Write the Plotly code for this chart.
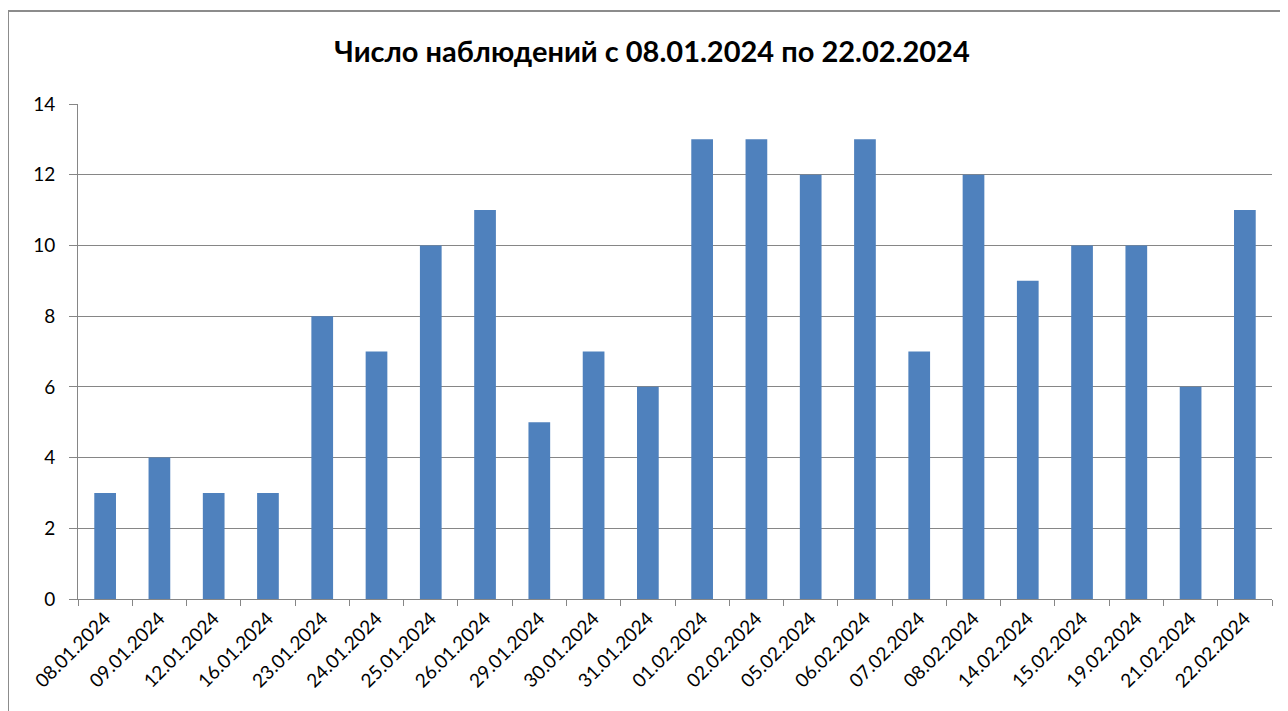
import plotly.graph_objects as go

dates = ["08.01.2024", "09.01.2024", "12.01.2024", "16.01.2024", "23.01.2024",
         "24.01.2024", "25.01.2024", "26.01.2024", "29.01.2024", "30.01.2024",
         "31.01.2024", "01.02.2024", "02.02.2024", "05.02.2024", "06.02.2024",
         "07.02.2024", "08.02.2024", "14.02.2024", "15.02.2024", "19.02.2024",
         "21.02.2024", "22.02.2024"]
counts = [3, 4, 3, 3, 8, 7, 10, 11, 5, 7, 6, 13, 13, 12, 13, 7, 12, 9, 10, 10, 6, 11]
y_ticks = [0, 2, 4, 6, 8, 10, 12, 14]

FONT = "Lato, Carlito, Calibri, sans-serif"

fig = go.Figure(go.Bar(x=dates, y=counts, marker=dict(color="#4F81BD", line=dict(width=0))))

# page body has an 8px default margin, so the figure is offset by 8px
OFF = 8
W, H = 1288 - OFF, 711 - OFF
L, R, T, B = 78 - OFF, 16, 104 - OFF, 112
pw, ph = W - L - R, H - T - B

fig.update_layout(
    width=W, height=H,
    margin=dict(l=L, r=R, t=T, b=B),
    paper_bgcolor="white", plot_bgcolor="white",
    bargap=0.6,
    showlegend=False,
    title=dict(text="<b>Число наблюдений с 08.01.2024 по 22.02.2024</b>",
               x=(652 - OFF) / W, xanchor="center", y=1 - (52 - OFF) / H, yanchor="middle",
               font=dict(family=FONT, size=29, color="#000000")),
    font=dict(family=FONT, size=19, color="#000000"),
    xaxis=dict(type="category", tickangle=-45, showline=True, linecolor="#868686",
               linewidth=1, ticks="outside", tickson="boundaries", ticklen=6,
               tickcolor="#868686", showgrid=False, tickfont=dict(size=19),
               automargin=False),
    yaxis=dict(range=[0, 14], tickvals=y_ticks, showgrid=True, gridcolor="#868686",
               gridwidth=1, showline=True, linecolor="#868686", ticks="outside",
               ticklen=8, tickcolor="#868686", zeroline=False,
               ticklabelstandoff=10, tickfont=dict(size=19), automargin=False),
    shapes=[dict(type="rect", xref="paper", yref="paper",
                 x0=(8 - 78) / pw, x1=1.2, y0=-0.5, y1=(599 - 11) / ph,
                 line=dict(color="#8c8c8c", width=2), layer="below")],
)

fig.write_html("out.html")
